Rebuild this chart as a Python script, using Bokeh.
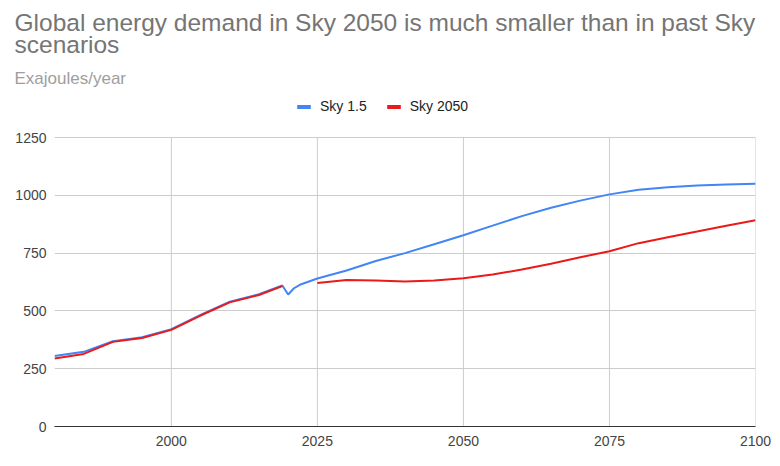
from bokeh.plotting import figure
from bokeh.models import Range1d, FixedTicker, Legend, LegendItem, Title
from bokeh.embed import file_html
from bokeh.resources import INLINE

nan = float("nan")

years = [1980, 1985, 1990, 1995, 2000, 2005, 2010, 2015, 2019, 2020, 2021, 2022,
         2025, 2030, 2035, 2040, 2045, 2050, 2055, 2060, 2065, 2070, 2075, 2080,
         2085, 2090, 2095, 2100]
sky_15 = [305, 323, 369, 386, 421, 483, 540, 572, 610, 571, 598, 613,
          640, 675, 716, 750, 788, 827, 869, 910, 946, 977, 1004, 1024,
          1035, 1042, 1047, 1050]
sky_2050 = [294, 314, 366, 383, 418, 480, 537, 569, 607, nan, nan, nan,
            621, 634, 632, 627, 631, 641, 657, 679, 704, 732, 758, 793,
            819, 843, 868, 892]

x_ticks = [2000, 2025, 2050, 2075, 2100]
y_ticks = [0, 250, 500, 750, 1000, 1250]

title_text = "Global energy demand in Sky 2050 is much smaller than in past Sky\nscenarios"
subtitle = "Exajoules/year"
series_names = ["Sky 1.5", "Sky 2050"]
colors = ["#4285f4", "#ea1a1a"]

FONT = "Liberation Sans"

# layout (pixels)
W, H = 780, 466
FRAME_TOP = 90          # frame starts above the legend row
AXIS_TOP = 137          # pixel row of the top gridline (y = 1250)
FRAME_BOTTOM = 426
FRAME_LEFT, FRAME_RIGHT = 54, 755

y_top = y_ticks[-1] * (FRAME_BOTTOM - FRAME_TOP) / (FRAME_BOTTOM - AXIS_TOP)

p = figure(width=W, height=H,
           x_range=Range1d(1980, 2100), y_range=Range1d(0, y_top),
           output_backend="svg", toolbar_location=None, title_location=None,
           min_border_left=FRAME_LEFT, min_border_right=W - FRAME_RIGHT,
           min_border_top=FRAME_TOP, min_border_bottom=H - FRAME_BOTTOM)
p.outline_line_color = None

p.xaxis.ticker = FixedTicker(ticks=x_ticks)
p.yaxis.ticker = FixedTicker(ticks=y_ticks)
for ax in (p.xaxis[0], p.yaxis[0]):
    ax.major_tick_line_color = None
    ax.minor_tick_line_color = None
    ax.major_tick_out = 0
    ax.major_tick_in = 0
    ax.major_label_text_font = FONT
    ax.major_label_text_font_size = "14px"
    ax.major_label_text_color = "#444444"
p.xaxis.axis_line_color = "#333333"
p.xaxis.major_label_standoff = 9
p.yaxis.axis_line_color = None
p.yaxis.major_label_standoff = 8

p.xgrid.visible = False
p.ygrid.ticker = FixedTicker(ticks=y_ticks)
p.ygrid.grid_line_color = "#cccccc"
# vertical gridlines only across the value range
p.segment(x0=x_ticks, y0=[y_ticks[0]] * len(x_ticks), x1=x_ticks,
          y1=[y_ticks[-1]] * len(x_ticks), line_color="#cccccc", line_width=1)

p.line(years, sky_15, line_color=colors[0], line_width=2)
p.line(years, sky_2050, line_color=colors[1], line_width=2)

# legend swatch renderers (zero-size, only used for the legend)
s1 = p.rect(x=[years[0]], y=[sky_15[0]], width=0, height=0, fill_color=colors[0], line_color=None)
s2 = p.rect(x=[years[0]], y=[sky_2050[0]], width=0, height=0, fill_color=colors[1], line_color=None)
legend = Legend(items=[LegendItem(label=series_names[0], renderers=[s1]),
                       LegendItem(label=series_names[1], renderers=[s2])],
                orientation="horizontal",
                location=(295 - FRAME_LEFT, FRAME_BOTTOM - 106 - 10),
                glyph_width=17, glyph_height=5, label_standoff=8, spacing=18,
                padding=0, margin=0, border_line_color=None,
                background_fill_alpha=0, label_text_font=FONT,
                label_text_font_size="14px", label_text_color="#222222",
                label_height=20)
p.add_layout(legend, "center")

p.add_layout(Title(text=subtitle, align="left", offset=14 - FRAME_LEFT, standoff=6,
                   text_font=FONT, text_font_size="17px", text_color="#9e9e9e",
                   text_font_style="normal"), "above")
p.add_layout(Title(text=title_text, align="left", offset=14 - FRAME_LEFT, standoff=11,
                   text_font=FONT, text_font_size="24.5px", text_color="#757575",
                   text_font_style="normal", text_line_height=0.82), "above")

open("out.html", "w").write(file_html(p, INLINE))
